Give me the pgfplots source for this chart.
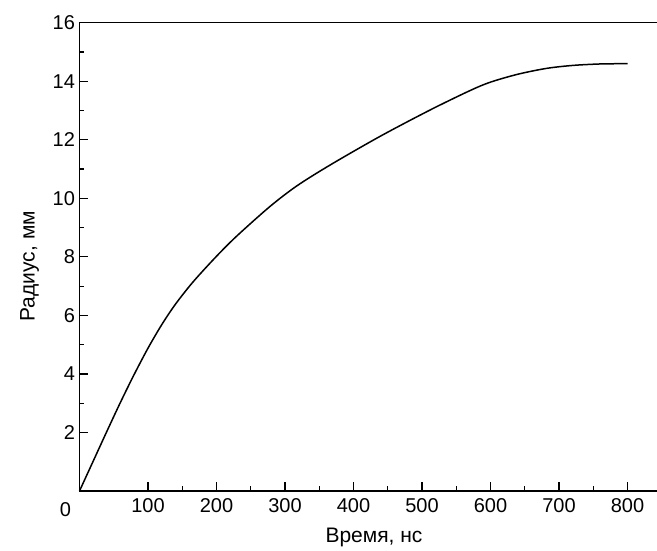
\documentclass[border=0pt]{standalone}
\usepackage{fontspec}
\setmainfont{Liberation Sans}
\usepackage{pgfplots}
\pgfplotsset{compat=1.18}

\begin{document}
\begin{tikzpicture}
\useasboundingbox (-79.5pt,-60pt) rectangle (577.5pt,491pt);
\begin{axis}[
at={(0,0)}, anchor=south west,
scale only axis,
width=577.5pt, height=468.3pt,
xmin=0, xmax=843,
ymin=0, ymax=16,
axis x line=box,
axis y line=left,
axis line style={line width=1.5pt, -},
xtick pos=bottom, ytick pos=left,
xtick={100,200,...,800},
ytick={2,4,...,16},
minor x tick num=1,
minor y tick num=1,
tick align=inside,
major tick length=9pt,
minor tick length=5pt,
tick style={line width=1.2pt, black},
/pgf/number format/assume math mode=true,
ticklabel style={font=\fontsize{20}{22}\selectfont},
xticklabel style={yshift=-4pt},
yticklabel style={xshift=-1pt},
label style={font=\fontsize{21}{23}\selectfont},
xlabel={Время, нс},
ylabel={Радиус, мм},
xlabel style={at={(axis description cs:0.51,0)}, anchor=north, yshift=-34pt},
ylabel style={at={(axis description cs:0,0.48)}, anchor=south, yshift=37pt},
clip=false,
]
\addplot[black, line width=1.5pt, smooth] coordinates {
(0,0) (20,1.02) (40,2.04) (60,3.04) (80,3.99) (100,4.88) (120,5.68)
(140,6.38) (166,7.15) (200,8.02) (230,8.72) (278,9.72) (317,10.42)
(366,11.14) (439,12.12) (512,13.02) (570,13.68) (600,13.97) (640,14.24)
(682,14.44) (720,14.54) (760,14.59) (800,14.6)
};
\node[font=\fontsize{20}{22}\selectfont] at (rel axis cs:0,0) [xshift=-14pt, yshift=-19pt] {0};
\end{axis}
\end{tikzpicture}
\end{document}
